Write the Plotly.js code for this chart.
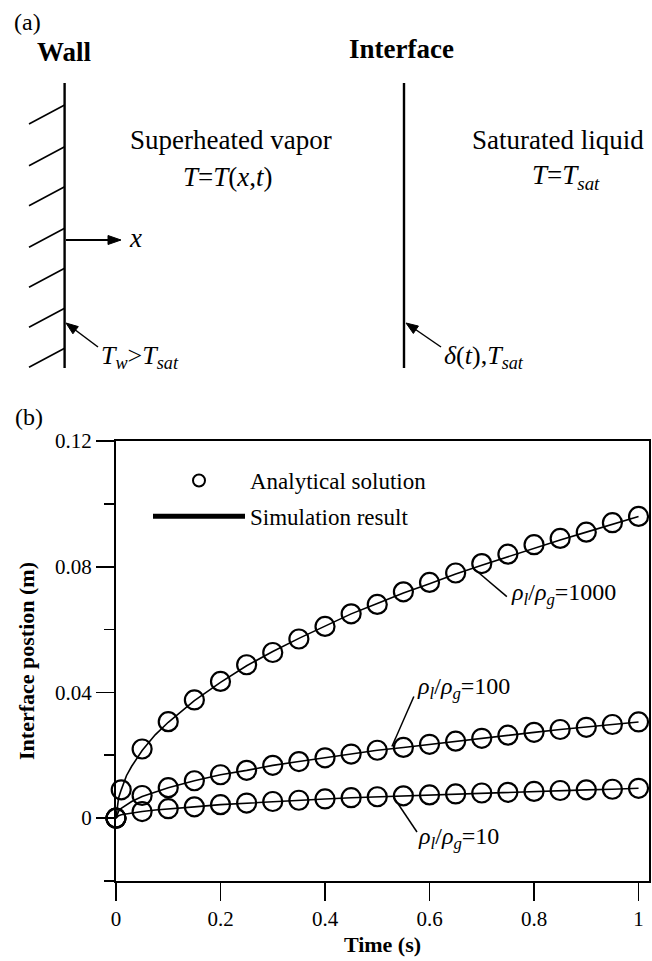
<!DOCTYPE html>
<html><head><meta charset="utf-8">
<script src="https://cdn.plot.ly/plotly-3.0.1.min.js"></script>
<style>body{margin:0;background:#fff}</style>
</head><body><div id="chart" style="width:652px;height:961px"></div>
<script>
// ---------- data ----------
const tAnalytic1000 = [0,0.01,0.05,0.1,0.15,0.2,0.25,0.3,0.35,0.4,0.45,0.5,0.55,0.6,0.65,0.7,0.75,0.8,0.85,0.9,0.95,1.0];
const analytic1000  = [0,0.009,0.022,0.0307,0.0376,0.0435,0.0488,0.0527,0.057,0.061,0.065,0.068,0.072,0.075,0.078,0.081,0.084,0.087,0.089,0.091,0.094,0.096];
const tAnalytic = [0,0.05,0.1,0.15,0.2,0.25,0.3,0.35,0.4,0.45,0.5,0.55,0.6,0.65,0.7,0.75,0.8,0.85,0.9,0.95,1.0];
const analytic100 = [0,0.0072,0.0097,0.0119,0.0138,0.0152,0.0168,0.018,0.0192,0.0204,0.0216,0.0225,0.0235,0.0245,0.0254,0.0264,0.0273,0.0282,0.0289,0.0298,0.0306];
const analytic10  = [0,0.0021,0.0030,0.0036,0.0043,0.0048,0.0053,0.0057,0.0061,0.0065,0.0068,0.0071,0.0074,0.0077,0.0080,0.0082,0.0085,0.0088,0.0090,0.0092,0.0095];

const tSim = [0,0.005,0.01,0.02,0.03,0.05,0.075,0.1,0.15,0.2,0.25,0.3,0.35,0.4,0.45,0.5,0.55,0.6,0.65,0.7,0.75,0.8,0.85,0.9,0.95,1.0];
const sim1000 = [0,0.0065,0.009,0.0135,0.0165,0.0215,0.0265,0.0305,0.0374,0.0432,0.0485,0.053,0.0572,0.0612,0.065,0.0683,0.0716,0.0746,0.0777,0.0805,0.0832,0.086,0.0885,0.091,0.0935,0.096];
const sim100  = [0,0.0022,0.0031,0.0043,0.0053,0.0069,0.0084,0.0097,0.0119,0.0138,0.0152,0.0168,0.018,0.0192,0.0204,0.0216,0.0225,0.0235,0.0245,0.0254,0.0264,0.0273,0.0282,0.0289,0.0298,0.0306];
const sim10   = [0,0.0008,0.0011,0.0014,0.0017,0.0021,0.0026,0.0030,0.0036,0.0043,0.0048,0.0053,0.0057,0.0061,0.0065,0.0068,0.0071,0.0074,0.0077,0.0080,0.0082,0.0085,0.0088,0.0090,0.0092,0.0095];

const xTickVals = [0,0.2,0.4,0.6,0.8,1];
const xTickText = ['0','0.2','0.4','0.6','0.8','1'];
const yTickVals = [0,0.04,0.08,0.12];
const yTickText = ['0','0.04','0.08','0.12'];
const seriesNames = ['Analytical solution','Simulation result'];
const ratioLabels = ['1000','100','10'];

// ---------- layout helpers (pixel -> paper) ----------
const L=116, R=649, T=441, B=881;
function px(x){return (x-L)/(R-L);}
function py(y){return (B-y)/(B-T);}
const FONT = 'Liberation Serif, serif';

const openCircle = {symbol:'circle-open', size:19, color:'#000', line:{width:2.2, color:'#000'}};
const simLine = {color:'#000', width:1.6};

const traces = [
  {x:tAnalytic1000, y:analytic1000, mode:'markers', marker:openCircle, name:seriesNames[0], legendgroup:'a', showlegend:true, cliponaxis:false},
  {x:tAnalytic, y:analytic100, mode:'markers', marker:openCircle, name:seriesNames[0], legendgroup:'a', showlegend:false, cliponaxis:false},
  {x:tAnalytic, y:analytic10, mode:'markers', marker:openCircle, name:seriesNames[0], legendgroup:'a', showlegend:false, cliponaxis:false},
  {x:tSim, y:sim1000, mode:'lines', line:simLine, name:seriesNames[1], legendgroup:'b', showlegend:true},
  {x:tSim, y:sim100, mode:'lines', line:simLine, name:seriesNames[1], legendgroup:'b', showlegend:false},
  {x:tSim, y:sim10, mode:'lines', line:simLine, name:seriesNames[1], legendgroup:'b', showlegend:false}
];

// ---------- panel (a) drawing ----------
const shapes = [];
function pline(x0,y0,x1,y1,w){
  shapes.push({type:'line', xref:'paper', yref:'paper', x0:px(x0), y0:py(y0), x1:px(x1), y1:py(y1), line:{color:'#000', width:w||2}});
}
function arrowHead(x0,y0,x1,y1,len,hw){
  const dx=x1-x0, dy=y1-y0, d=Math.hypot(dx,dy), ux=dx/d, uy=dy/d;
  const bx=x1-ux*len, by=y1-uy*len;
  const p1=[bx-uy*hw, by+ux*hw], p2=[bx+uy*hw, by-ux*hw];
  shapes.push({type:'path', xref:'paper', yref:'paper',
    path:`M${px(x1)},${py(y1)} L${px(p1[0])},${py(p1[1])} L${px(p2[0])},${py(p2[1])} Z`,
    fillcolor:'#000', line:{color:'#000', width:1}});
}
pline(64.6,83,64.6,368,2.4);
pline(404,83,404,368,2.4);
[105,146.7,186.7,228.3,268.3,308.3,348.3].forEach(y=>pline(64.6,y,29,y+19,1.6));
pline(66,240,112,240,1.8); arrowHead(66,240,121,240,13,4.5);
pline(98,347,70,326,1.5); arrowHead(98,347,66,323,12,4.5);
pline(441,347,409,325,1.5); arrowHead(441,347,406,323,12,4.5);

function dline(x0,y0,x1,y1){shapes.push({type:'line', xref:'x', yref:'y', x0,y0,x1,y1, line:{color:'#000', width:1.5}});}
dline(0.684,0.0795,0.748,0.0705);
dline(0.528,0.0228,0.570,0.0387);
dline(0.532,0.0065,0.576,-0.0044);

const annotations = [];
function ptext(txt,x,y,size,anchor){
  annotations.push({text:txt, xref:'paper', yref:'paper', x:px(x), y:py(y), xanchor:anchor||'center', yanchor:'middle', showarrow:false, font:{size:size, family:FONT, color:'#000'}});
}
ptext('(a)',27,22,24);
ptext('<b>Wall</b>',64,52,27);
ptext('<b>Interface</b>',401,49,27);
ptext('Superheated vapor',231,140,27);
ptext('<i>T</i>=<i>T</i>(<i>x</i>,<i>t</i>)',228,177,27);
ptext('Saturated liquid',558,140,27);
ptext('<i>T</i>=<i>T</i><sub><i>sat</i></sub>',566,177,27);
ptext('<i>x</i>',135,238,27);
ptext('<i>T</i><sub><i>w</i></sub>&gt;<i>T</i><sub><i>sat</i></sub>',99,357,26,'left');
ptext('<i>δ</i>(<i>t</i>),<i>T</i><sub><i>sat</i></sub>',442,357,26,'left');
ptext('(b)',29,417,24);

function rtext(lbl,x,y){
  annotations.push({text:'<i>ρ</i><sub><i>l</i></sub>/<i>ρ</i><sub><i>g</i></sub>='+lbl, xref:'x', yref:'y', x, y, xanchor:'left', yanchor:'middle', showarrow:false, font:{size:24, family:FONT, color:'#000'}});
}
rtext(ratioLabels[0],0.752,0.0714);
rtext(ratioLabels[1],0.573,0.0415);
rtext(ratioLabels[2],0.574,-0.0063);

const axisCommon = {showline:true, linecolor:'#000', linewidth:2, mirror:true, showgrid:false, zeroline:false,
  ticks:'outside', ticklen:18, tickwidth:1.8, tickcolor:'#000', tickfont:{size:21, family:FONT, color:'#000'}};

const layout = {
  width:652, height:961,
  margin:{l:L, r:652-R, t:T, b:961-B},
  paper_bgcolor:'#fff', plot_bgcolor:'#fff',
  font:{family:FONT, color:'#000', size:18},
  showlegend:true,
  legend:{x:px(148), y:py(459), xanchor:'left', yanchor:'top', bgcolor:'rgba(0,0,0,0)', font:{size:23, family:FONT},
    itemwidth:92, tracegroupgap:3, traceorder:'grouped', itemsizing:'constant'},
  xaxis:Object.assign({}, axisCommon, {range:[0,1.02], tickmode:'array', tickvals:xTickVals, ticktext:xTickText,
    title:{text:'<b>Time (s)</b>', font:{size:22, family:FONT}, standoff:6}}),
  yaxis:Object.assign({}, axisCommon, {range:[-0.02,0.12], tickmode:'array', tickvals:yTickVals, ticktext:yTickText,
    minor:{dtick:0.02, tick0:0, ticks:'outside', ticklen:10, tickwidth:1.8, tickcolor:'#000'},
    title:{text:'<b>Interface postion (m)</b>', font:{size:22, family:FONT}, standoff:14}}),
  shapes, annotations
};

Plotly.newPlot('chart', traces, layout, {displayModeBar:false, staticPlot:true});
</script>
</body></html>
